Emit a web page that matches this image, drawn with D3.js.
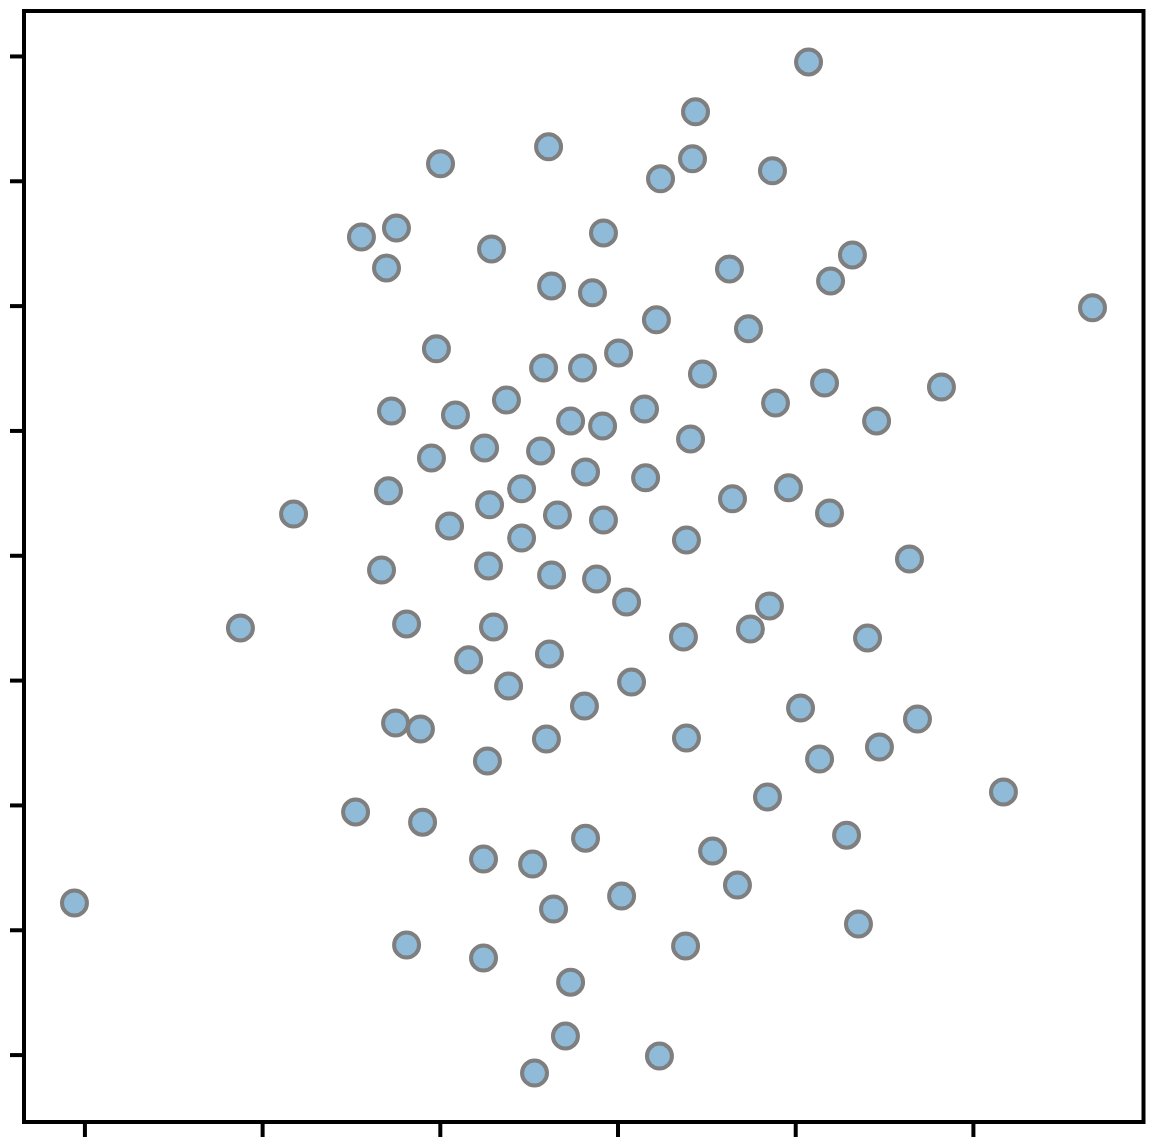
<!DOCTYPE html>
<html>
<head>
<meta charset="utf-8">
<script src="https://cdn.jsdelivr.net/npm/d3@7"></script>
<style>
  html, body { margin: 0; padding: 0; background: #fff; }
  svg { display: block; }
</style>
</head>
<body>
<svg id="chart" width="1154" height="1146"></svg>
<script>
const xValues = [1.075,0.439,-0.388,-0.996,0.422,0.242,0.872,-1.441,-1.244,-0.709,-0.079,-1.300,0.630,1.322,1.199,-0.371,-0.141,2.673,0.219,0.737,-1.019,-0.416,-0.197,0.006,0.478,1.165,1.823,-1.272,-0.912,-0.625,-0.264,-0.084,0.152,0.889,1.458,0.411,-0.748,-0.433,-1.047,-0.180,0.158,-1.289,-0.540,0.647,0.962,-1.823,-0.720,-0.338,-0.079,1.193,-0.945,-0.540,0.388,1.643,-1.328,-0.726,-0.371,-0.118,0.051,0.855,-2.122,-1.187,-0.698,0.748,0.371,1.407,-0.383,-0.838,-0.613,0.079,-0.186,1.030,-1.249,-1.109,1.688,-0.400,0.388,-0.732,1.137,1.474,2.172,0.844,-1.474,-1.097,-0.180,1.289,-0.754,-0.478,0.535,0.675,-3.056,-0.360,0.023,1.356,-1.187,-0.754,0.383,-0.264,-0.293,0.236,-0.467];
const yValues = [1.976,1.776,1.636,1.568,1.588,1.508,1.540,1.275,1.311,1.227,1.291,1.151,1.147,1.203,1.099,1.079,1.051,0.991,0.943,0.907,0.827,0.750,0.750,0.810,0.726,0.690,0.674,0.578,0.562,0.622,0.538,0.518,0.586,0.610,0.538,0.466,0.430,0.418,0.390,0.334,0.310,0.258,0.266,0.226,0.270,0.165,0.202,0.161,0.141,0.169,0.117,0.069,0.061,-0.015,-0.059,-0.043,-0.079,-0.095,-0.187,-0.203,-0.291,-0.275,-0.287,-0.295,-0.327,-0.331,-0.395,-0.419,-0.524,-0.508,-0.604,-0.612,-0.672,-0.696,-0.656,-0.736,-0.732,-0.824,-0.816,-0.768,-0.948,-0.968,-1.028,-1.069,-1.133,-1.121,-1.217,-1.237,-1.185,-1.321,-1.393,-1.417,-1.365,-1.477,-1.561,-1.613,-1.565,-1.710,-1.926,-2.006,-2.074];
const xTicks = [-3, -2, -1, 0, 1, 2];
const yTicks = [-2, -1.5, -1, -0.5, 0, 0.5, 1, 1.5, 2];

const points = xValues.map((x, i) => ({x: x, y: yValues[i]}));

const plotLeft = 24, plotRight = 1143.5, plotTop = 11, plotBottom = 1122;
const svg = d3.select("#chart");

const x = d3.scaleLinear().domain([-3.34, 2.96]).range([plotLeft, plotRight]);
const y = d3.scaleLinear().domain([-2.27, 2.18]).range([plotBottom, plotTop]);

// points
svg.append("g")
  .selectAll("circle")
  .data(points)
  .join("circle")
  .attr("cx", d => x(d.x))
  .attr("cy", d => y(d.y))
  .attr("r", 12.5)
  .attr("fill", "#8fbbd9")
  .attr("stroke", "#7f7f7f")
  .attr("stroke-width", 4);

// axes (ticks only, no labels)
const xAxis = svg.append("g")
  .attr("transform", `translate(0,${plotBottom})`)
  .call(d3.axisBottom(x).tickValues(xTicks).tickSize(15).tickFormat(""));
const yAxis = svg.append("g")
  .attr("transform", `translate(${plotLeft},0)`)
  .call(d3.axisLeft(y).tickValues(yTicks).tickSize(14).tickFormat(""));
[xAxis, yAxis].forEach(a => {
  a.select(".domain").remove();
  a.selectAll(".tick line").attr("stroke", "#000").attr("stroke-width", 4);
});

// frame
svg.append("rect")
  .attr("x", plotLeft).attr("y", plotTop)
  .attr("width", plotRight - plotLeft).attr("height", plotBottom - plotTop)
  .attr("fill", "none").attr("stroke", "#000").attr("stroke-width", 4);
</script>
</body>
</html>
